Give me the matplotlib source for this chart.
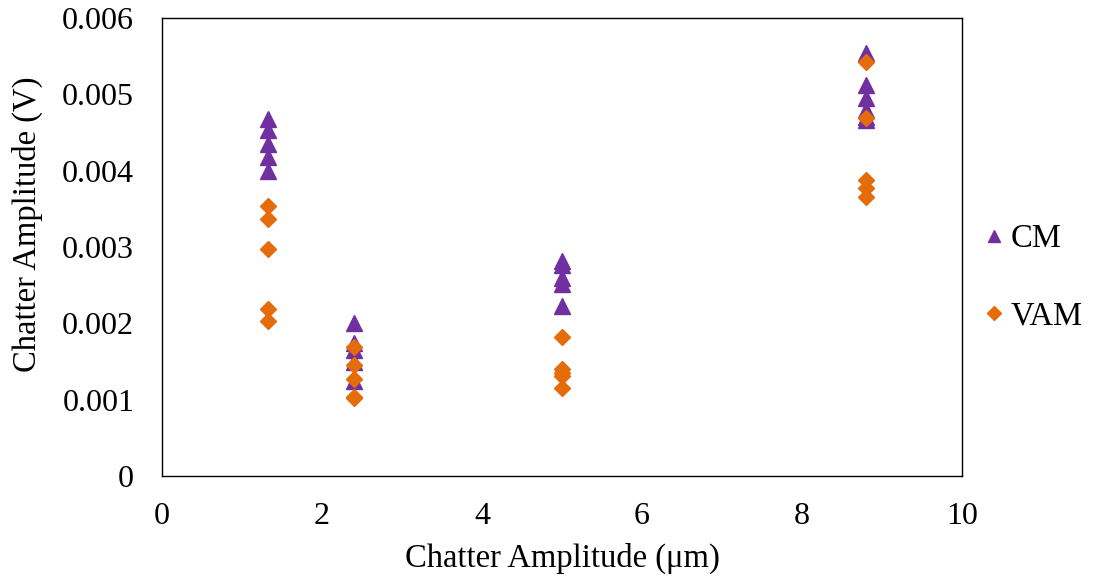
import matplotlib
matplotlib.use("Agg")
import matplotlib.pyplot as plt

plt.rcParams['font.family'] = ['Liberation Serif', 'DejaVu Serif']

cm_x = [1.32]*5 + [2.4]*5 + [5.0]*5 + [8.8]*6
cm_y = [0.00468, 0.00453, 0.00435, 0.00418, 0.00400,
        0.00200, 0.00174, 0.00165, 0.00149, 0.00125,
        0.00282, 0.00277, 0.00260, 0.00251, 0.00223,
        0.00554, 0.00512, 0.00495, 0.00480, 0.00467, 0.00470]
vam_x = [1.32]*5 + [2.4]*5 + [5.0]*5 + [8.8]*5
vam_y = [0.00354, 0.00337, 0.00297, 0.00219, 0.00203,
         0.00169, 0.00145, 0.00127, 0.00103, 0.00102,
         0.00182, 0.00140, 0.00135, 0.00131, 0.00115,
         0.00543, 0.00469, 0.00388, 0.00377, 0.00365]

xticks = [0, 2, 4, 6, 8, 10]
yticks = [0, 0.001, 0.002, 0.003, 0.004, 0.005, 0.006]
ytick_labels = ['0', '0.001', '0.002', '0.003', '0.004', '0.005', '0.006']

fig = plt.figure(figsize=(10.95, 5.8), dpi=100)
ax = fig.add_axes([162/1095, 1 - 476/580, 800/1095, 458/580])

ax.plot(cm_x, cm_y, linestyle='none', marker='^', markersize=11,
        color='#7030A0', label='CM', zorder=3)
ax.plot(vam_x, vam_y, linestyle='none', marker='D', markersize=8,
        color='#E46C0A', label='VAM', zorder=4)

ax.set_xlim(0, 10)
ax.set_ylim(0, 0.006)
ax.set_xticks(xticks)
ax.set_xticklabels([str(t) for t in xticks])
ax.set_yticks(yticks)
ax.set_yticklabels(ytick_labels)
ax.tick_params(axis='both', length=0, labelsize=23)
ax.tick_params(axis='y', pad=20)
ax.tick_params(axis='x', pad=19)
for s in ax.spines.values():
    s.set_linewidth(1)
    s.set_color('black')

ax.set_xlabel('Chatter Amplitude (μm)', fontsize=23.5, labelpad=8)
ax.set_ylabel('Chatter Amplitude (V)', fontsize=23.5)
ax.yaxis.set_label_coords(-0.149, 0.55)

leg = ax.legend(loc='center left', bbox_to_anchor=(0.9825, 0.433), frameon=False,
                fontsize=23.5, handletextpad=0.03, labelspacing=1.45,
                handlelength=1.0, markerscale=0.85)

fig.savefig('out.png', dpi=100)
